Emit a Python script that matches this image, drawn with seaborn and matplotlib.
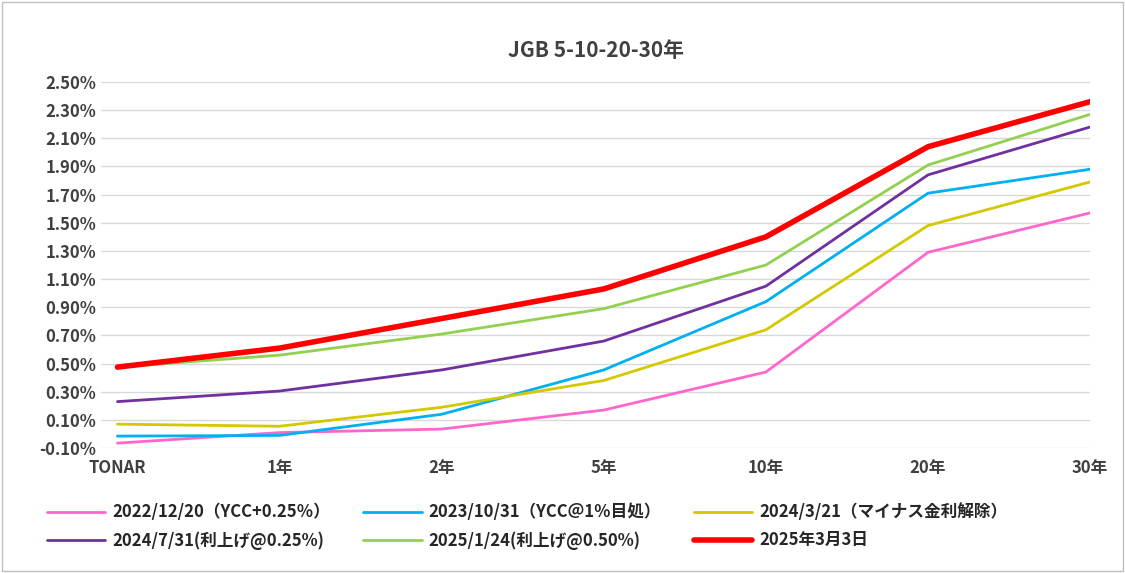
import matplotlib
matplotlib.use("Agg")
import matplotlib.pyplot as plt
import seaborn as sns
import pandas as pd
from matplotlib.patches import Rectangle

sns.set_theme(style="white")
plt.rcParams['font.family'] = ['Noto Sans CJK JP', 'DejaVu Sans']

tenors = ['TONAR', '1年', '2年', '5年', '10年', '20年', '30年']
labels = ['2022/12/20（YCC+0.25％）', '2023/10/31（YCC＠1％目処）', '2024/3/21（マイナス金利解除）',
          '2024/7/31(利上げ@0.25%)', '2025/1/24(利上げ@0.50%)', '2025年3月3日']
pink = [-0.065, 0.01, 0.035, 0.17, 0.44, 1.29, 1.57]
blue = [-0.015, -0.01, 0.14, 0.455, 0.94, 1.71, 1.88]
yellow = [0.07, 0.055, 0.19, 0.38, 0.74, 1.48, 1.79]
purple = [0.23, 0.305, 0.455, 0.66, 1.05, 1.84, 2.18]
green = [0.475, 0.56, 0.71, 0.89, 1.20, 1.91, 2.27]
red = [0.475, 0.61, 0.82, 1.03, 1.40, 2.04, 2.36]
colors = ['#ff66cc', '#00b0f0', '#d4c800', '#7030a0', '#92d050', '#ff0000']
widths = [2, 2, 2, 2, 2, 4]

rows = []
for lab, vals in zip(labels, [pink, blue, yellow, purple, green, red]):
    for i, v in enumerate(vals):
        rows.append({'x': i, 'y': v, 'series': lab})
df = pd.DataFrame(rows)

fig = plt.figure(figsize=(11.25, 5.73), dpi=100)
ax = fig.add_axes([0.09, 0.218, 0.879, 0.639])
for lab, c, w in zip(labels, colors, widths):
    sns.lineplot(data=df[df.series == lab], x='x', y='y', color=c, linewidth=w, label=lab, ax=ax)

yt = [-0.1 + 0.2 * i for i in range(14)]
ax.set_yticks(yt)
ax.set_yticklabels([f'{v:.2f}%' for v in yt], fontsize=12, fontweight='bold', color='#404040')
ax.set_ylim(-0.1, 2.5)
ax.set_xlim(-0.1, 6)
ax.set_xticks(range(7))
ax.set_xticklabels(tenors, fontsize=12, fontweight='bold', color='#404040')
ax.tick_params(axis='x', pad=8, length=0)
ax.tick_params(axis='y', length=0)
ax.grid(axis='y', color='#d9d9d9', linewidth=1)
for s in ax.spines.values():
    s.set_visible(False)
ax.set_xlabel('')
ax.set_ylabel('')
ax.set_title('JGB 5-10-20-30年', fontsize=15, fontweight='bold', color='#404040', pad=18)

# row-wise legend order
h, l = ax.get_legend_handles_labels()
order = [0, 3, 1, 4, 2, 5]
ax.legend([h[i] for i in order], [l[i] for i in order], loc='upper left',
          bbox_to_anchor=(-0.07, -0.11), ncol=3, frameon=False,
          prop={'size': 12, 'weight': 'bold'}, handlelength=3.5, columnspacing=2.0,
          handletextpad=0.4, labelspacing=0.6)
fig.patches.append(Rectangle((0.002, 0.003), 0.996, 0.994, transform=fig.transFigure,
                             fill=False, edgecolor='#bfbfbf', linewidth=1))
fig.savefig('out.png', dpi=100)
